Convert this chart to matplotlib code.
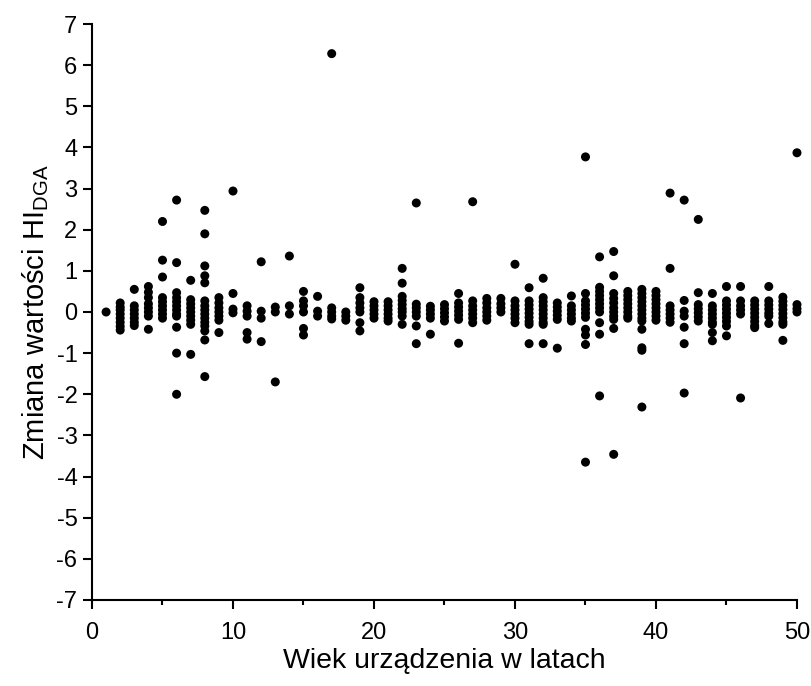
import matplotlib
matplotlib.use("Agg")
import matplotlib.pyplot as plt
from matplotlib.ticker import MultipleLocator

plt.rcParams["font.family"] = ["Liberation Sans", "DejaVu Sans"]
plt.rcParams["mathtext.fontset"] = "custom"
plt.rcParams["mathtext.rm"] = "Liberation Sans"
plt.rcParams["axes.unicode_minus"] = False

# Device age in years
ages = list(range(1, 51))

# Change of the HI_DGA index observed for each device age
changes = [
    [0.0],                                                                   # 1
    [0.22, 0.12, 0.05, -0.05, -0.15, -0.25, -0.35, -0.44],                   # 2
    [0.55, 0.15, 0.05, -0.05, -0.15, -0.25, -0.33],                          # 3
    [0.62, 0.48, 0.35, 0.2, 0.1, 0.0, -0.1, -0.42],                          # 4
    [2.2, 1.26, 0.85, 0.35, 0.25, 0.15, 0.05, -0.05, -0.15],                 # 5
    [2.72, 1.2, 0.47, 0.35, 0.25, 0.15, 0.05, -0.05, -0.1, -0.37, -1.0, -2.0],  # 6
    [0.77, 0.3, 0.2, 0.1, 0.0, -0.1, -0.2, -0.3, -1.03],                     # 7
    [2.47, 1.9, 1.12, 0.88, 0.71, 0.27, 0.15, 0.05, -0.05, -0.15, -0.25,
     -0.34, -0.46, -0.68, -1.57],                                            # 8
    [0.35, 0.22, 0.1, 0.0, -0.1, -0.2, -0.5],                                # 9
    [2.94, 0.45, 0.07, -0.02],                                               # 10
    [0.15, 0.02, -0.1, -0.5, -0.66],                                         # 11
    [1.22, 0.02, -0.15, -0.72],                                              # 12
    [0.12, 0.0, -1.7],                                                       # 13
    [1.36, 0.15, -0.05],                                                     # 14
    [0.5, 0.27, 0.15, 0.0, -0.4, -0.56],                                     # 15
    [0.38, 0.02, -0.1],                                                      # 16
    [6.28, 0.1, 0.0, -0.1, -0.17],                                           # 17
    [0.0, -0.1, -0.2],                                                       # 18
    [0.59, 0.35, 0.22, 0.1, 0.0, -0.26, -0.46],                              # 19
    [0.25, 0.15, 0.05, -0.05, -0.15],                                        # 20
    [0.25, 0.15, 0.05, -0.05, -0.15, -0.22],                                 # 21
    [1.06, 0.7, 0.38, 0.28, 0.18, 0.08, 0.0, -0.1, -0.3],                    # 22
    [2.65, 0.19, 0.1, 0.0, -0.1, -0.34, -0.77],                              # 23
    [0.14, 0.05, -0.05, -0.15, -0.54],                                       # 24
    [0.18, 0.08, -0.02, -0.12, -0.22],                                       # 25
    [0.45, 0.22, 0.12, 0.02, -0.08, -0.18, -0.76],                           # 26
    [2.68, 0.27, 0.15, 0.05, -0.05, -0.15, -0.26],                           # 27
    [0.33, 0.22, 0.1, 0.0, -0.1, -0.2],                                      # 28
    [0.33, 0.2, 0.1, 0.0],                                                   # 29
    [1.16, 0.27, 0.15, 0.05, -0.05, -0.15, -0.26],                           # 30
    [0.59, 0.27, 0.17, 0.07, -0.03, -0.13, -0.23, -0.3, -0.77],              # 31
    [0.82, 0.35, 0.25, 0.15, 0.05, -0.05, -0.15, -0.25, -0.3, -0.77],        # 32
    [0.22, 0.12, 0.02, -0.08, -0.18, -0.88],                                 # 33
    [0.39, 0.15, 0.05, -0.05, -0.15, -0.22],                                 # 34
    [3.77, 0.45, 0.27, 0.17, 0.07, -0.03, -0.13, -0.42, -0.56, -0.79, -3.65],  # 35
    [1.34, 0.6, 0.5, 0.4, 0.3, 0.2, 0.1, 0.0, -0.26, -0.54, -2.04],          # 36
    [1.47, 0.88, 0.45, 0.33, 0.22, 0.1, 0.0, -0.1, -0.18, -0.4, -3.46],      # 37
    [0.5, 0.4, 0.3, 0.2, 0.1, 0.0, -0.1, -0.15],                             # 38
    [0.55, 0.45, 0.35, 0.25, 0.15, 0.05, -0.05, -0.15, -0.22, -0.42, -0.87,
     -0.93, -2.31],                                                          # 39
    [0.5, 0.4, 0.3, 0.2, 0.1, 0.0, -0.1, -0.2],                              # 40
    [2.89, 1.06, 0.15, 0.05, -0.05, -0.15, -0.25],                           # 41
    [2.72, 0.28, 0.02, -0.1, -0.37, -0.77, -1.97],                           # 42
    [2.25, 0.47, 0.18, 0.08, -0.02, -0.12, -0.22],                           # 43
    [0.45, 0.15, 0.05, -0.05, -0.15, -0.25, -0.3, -0.5, -0.7],               # 44
    [0.62, 0.27, 0.17, 0.07, -0.03, -0.13, -0.23, -0.34, -0.58],             # 45
    [0.62, 0.27, 0.15, 0.05, -0.05, -2.09],                                  # 46
    [0.27, 0.17, 0.07, -0.03, -0.13, -0.23, -0.33, -0.38],                   # 47
    [0.62, 0.27, 0.17, 0.07, -0.03, -0.1, -0.28],                            # 48
    [0.36, 0.26, 0.16, 0.06, -0.04, -0.14, -0.24, -0.3, -0.69],              # 49
    [3.87, 0.18, 0.08, 0.0],                                                 # 50
]

x_label = "Wiek urządzenia w latach"
y_label = r"Zmiana wartości $\mathregular{HI_{DGA}}$"

xs = [a for a, vals in zip(ages, changes) for _ in vals]
ys = [v for vals in changes for v in vals]

fig = plt.figure(figsize=(8.12, 6.86), dpi=100)
ax = fig.add_axes([0.1133, 0.1254, 0.8682, 0.8396])

ax.scatter(xs, ys, s=42, color="black", edgecolors="none", zorder=3,
           clip_on=False)

ax.set_xlim(0, 50)
ax.set_ylim(-7, 7)
ax.xaxis.set_major_locator(MultipleLocator(10))
ax.xaxis.set_minor_locator(MultipleLocator(5))
ax.yaxis.set_major_locator(MultipleLocator(1))

for side in ("top", "right"):
    ax.spines[side].set_visible(False)
for side in ("left", "bottom"):
    ax.spines[side].set_linewidth(1.5)

ax.tick_params(axis="both", which="major", direction="out", length=6.5,
               width=1.5, labelsize=17, pad=4)
ax.tick_params(axis="x", which="minor", direction="out", length=3.5,
               width=1.5)
ax.tick_params(axis="x", which="major", pad=9)

ax.set_xlabel(x_label, fontsize=20.5, labelpad=3)
ax.set_ylabel(y_label, fontsize=21, labelpad=4)

fig.savefig("out.png", dpi=100)
